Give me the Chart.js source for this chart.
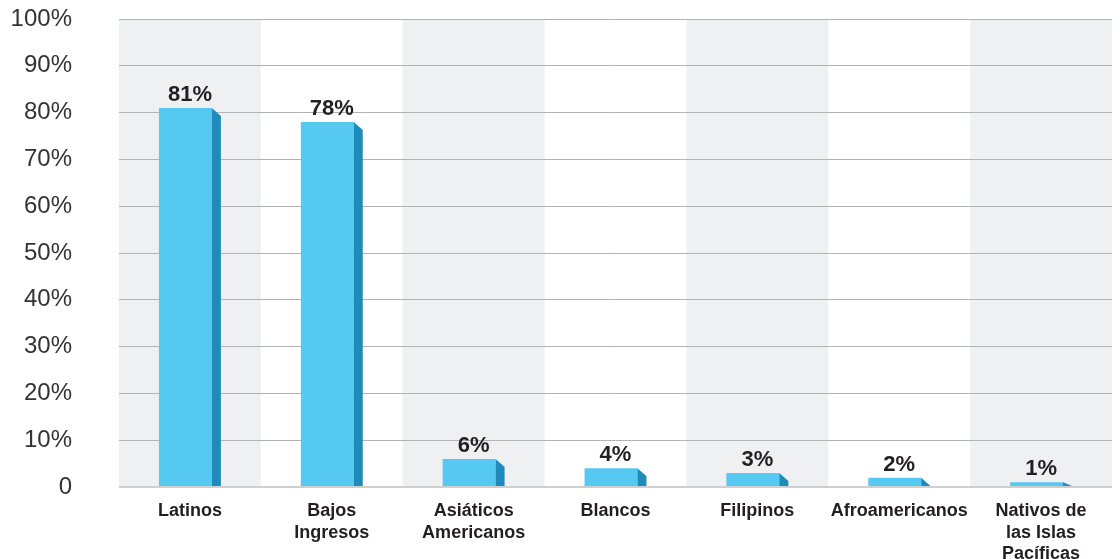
<!DOCTYPE html>
<html>
<head>
<meta charset="utf-8">
<script src="https://cdn.jsdelivr.net/npm/chart.js@4"></script>
<style>
  html, body { margin: 0; padding: 0; background: #fff; }
  #wrap { width: 1120px; height: 559px; }
</style>
</head>
<body>
<div id="wrap"><canvas id="myChart"></canvas></div>
<script>
const categories = [
    'Latinos',
    ['Bajos', 'Ingresos'],
    ['Asiáticos', 'Americanos'],
    'Blancos',
    'Filipinos',
    'Afroamericanos',
    ['Nativos de', 'las Islas', 'Pacíficas']
];
const values = [81, 78, 6, 4, 3, 2, 1];
const yTicks = [0, 10, 20, 30, 40, 50, 60, 70, 80, 90, 100];

const FRONT = '#56c9f2';
const SIDE = '#1e8bbb';
const SIDE_W = 9;
const SIDE_DROP = 8;

// alternating grey columns behind the bars
const bandPlugin = {
    id: 'bands',
    beforeDraw(chart) {
        const { ctx, chartArea, scales } = chart;
        const x = scales.x;
        const step = x.getPixelForValue(1) - x.getPixelForValue(0);
        ctx.save();
        ctx.fillStyle = '#eff0f2';
        categories.forEach((c, i) => {
            if (i % 2 !== 0) return;
            const cx = x.getPixelForValue(i);
            const l = Math.max(chartArea.left, cx - step / 2);
            const r = Math.min(chartArea.right, cx + step / 2);
            ctx.fillRect(l, chartArea.top, r - l, chartArea.bottom - chartArea.top);
        });
        ctx.restore();
    }
};

// shift the front face left and draw the dark side face
const sidePlugin = {
    id: 'sides',
    beforeDatasetDraw(chart) {
        chart.ctx.save();
        chart.ctx.translate(-SIDE_W / 2, 0);
    },
    afterDatasetDraw(chart, args) {
        const ctx = chart.ctx;
        args.meta.data.forEach(bar => {
            const right = bar.x + bar.width / 2;
            const top = bar.y;
            const bottom = bar.base;
            const drop = Math.min(top + SIDE_DROP, bottom);
            ctx.fillStyle = SIDE;
            ctx.beginPath();
            ctx.moveTo(right, top);
            ctx.lineTo(right + SIDE_W, drop);
            ctx.lineTo(right + SIDE_W, bottom);
            ctx.lineTo(right, bottom);
            ctx.closePath();
            ctx.fill();
        });
        ctx.restore();
    },
    afterDatasetsDraw(chart) {
        const ctx = chart.ctx;
        const meta = chart.getDatasetMeta(0);
        ctx.save();
        ctx.fillStyle = '#231f20';
        ctx.font = 'bold 22px "Liberation Sans", Arial, sans-serif';
        ctx.textAlign = 'center';
        ctx.textBaseline = 'alphabetic';
        meta.data.forEach((bar, i) => {
            ctx.fillText(values[i] + '%', bar.x, bar.y - 7);
        });
        ctx.restore();
    }
};

const ctx = document.getElementById('myChart').getContext('2d');
new Chart(ctx, {
    type: 'bar',
    data: {
        labels: categories,
        datasets: [{
            data: values,
            backgroundColor: FRONT,
            borderWidth: 0,
            categoryPercentage: 1,
            barPercentage: 0.373
        }]
    },
    options: {
        responsive: true,
        maintainAspectRatio: false,
        animation: false,
        layout: { padding: { left: 8, right: 8, top: 19, bottom: 0 } },
        plugins: {
            legend: { display: false },
            tooltip: { enabled: false }
        },
        scales: {
            x: {
                grid: { display: false },
                border: { display: false },
                ticks: {
                    color: '#231f20',
                    font: { family: '"Liberation Sans", Arial, sans-serif', size: 18, weight: 'bold', lineHeight: 1.17 },
                    maxRotation: 0,
                    autoSkip: false,
                    padding: 6
                },
                afterFit(scale) { scale.height = 72; }
            },
            y: {
                min: 0,
                max: 100,
                afterBuildTicks(scale) {
                    scale.ticks = yTicks.map(v => ({ value: v }));
                },
                grid: {
                    drawTicks: false,
                    color: ctx => ctx.tick && ctx.tick.value === 0 ? '#cfcfcf' : '#b3b3b3',
                    lineWidth: ctx => ctx.tick && ctx.tick.value === 0 ? 2 : 1
                },
                border: { display: false },
                ticks: {
                    color: '#333',
                    font: { family: '"Liberation Sans", Arial, sans-serif', size: 24 },
                    padding: 47,
                    callback: v => v === 0 ? '0' : v + '%'
                },
                afterFit(scale) {
                    scale.width = 111;
                    scale.paddingTop = 0;
                    scale.paddingBottom = 0;
                }
            }
        }
    },
    plugins: [bandPlugin, sidePlugin]
});
</script>
</body>
</html>
